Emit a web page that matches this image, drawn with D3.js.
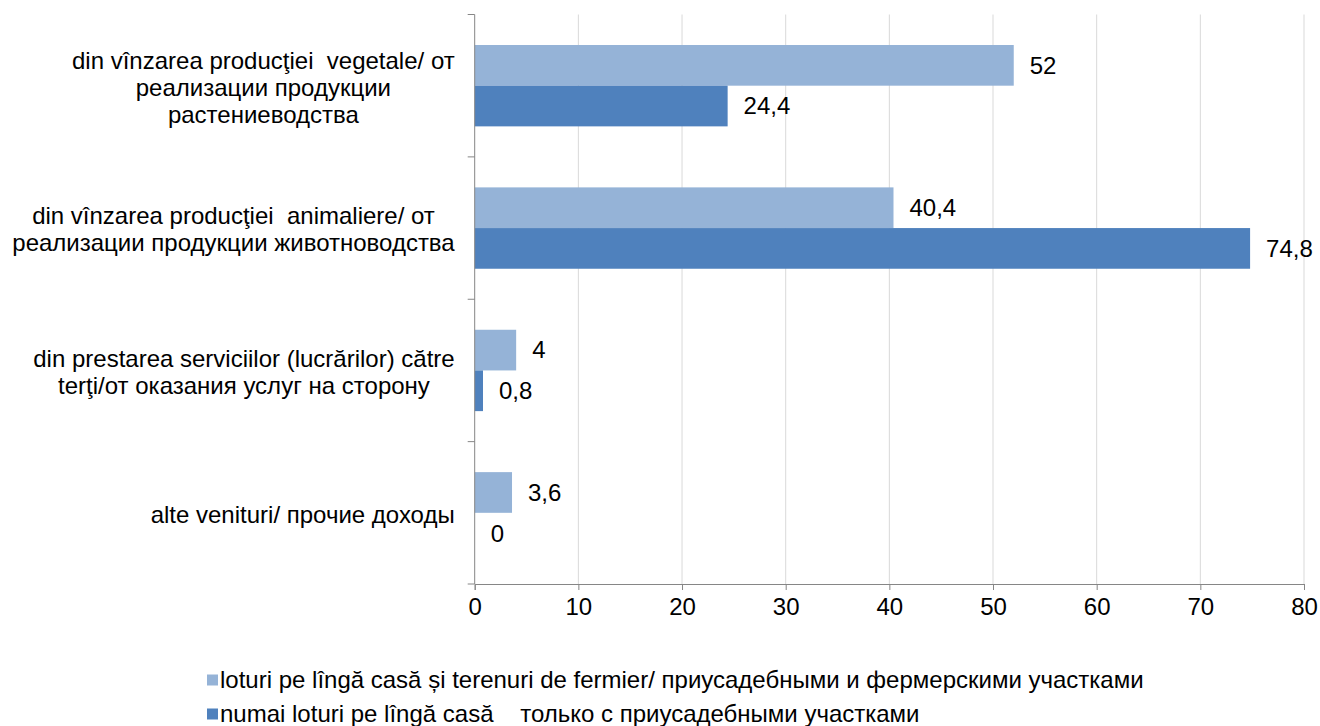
<!DOCTYPE html>
<html>
<head>
<meta charset="utf-8">
<script src="https://cdn.jsdelivr.net/npm/d3@7"></script>
<style>
  body { margin: 0; background: #fff; }
  text { font-family: "Liberation Sans", Arial, sans-serif; fill: #000; }
</style>
</head>
<body>
<svg width="1320" height="726"></svg>
<script>
"use strict"

// category labels, already wrapped the way the original shows them
const categories = [
    ["din vînzarea producţiei  vegetale/ от", "реализации продукции", "растениеводства"],
    ["din vînzarea producţiei  animaliere/ от", "реализации продукции животноводства"],
    ["din prestarea serviciilor (lucrărilor) către", "terţi/от оказания услуг на сторону"],
    ["alte venituri/ прочие доходы"]
]
const seriesNames = [
    "loturi pe lîngă casă și terenuri de fermier/ приусадебными и фермерскими участками",
    "numai loturi pe lîngă casă    только с приусадебными участками"
]
const bothPlots = [52, 40.4, 4, 3.6]
const householdOnly = [24.4, 74.8, 0.8, 0]
const xTicks = [0, 10, 20, 30, 40, 50, 60, 70, 80]

const colors = ["#95B3D7", "#4F81BD"]
const fontSize = 24

let locale = d3.formatLocale({decimal: ",", thousands: " ", grouping: [3], currency: ["", ""]})
let fmt = v => locale.format("~g")(v)

let svg = d3.select("svg"),
    margin = {top: 14.5, right: 16, bottom: 142, left: 474.7},
    width = 1320 - margin.left - margin.right,
    height = 726 - margin.top - margin.bottom

let g = svg.append("g")
    .attr("transform", "translate(" + margin.left + "," + margin.top + ")")

let x = d3.scaleLinear().domain([0, 80]).range([0, width])
let y = d3.scaleBand().domain(d3.range(categories.length)).range([0, height])
let ySub = d3.scaleBand().domain([0, 1]).range([0, y.bandwidth()])
    .paddingInner(0).paddingOuter(0.75)

// vertical gridlines
g.append("g")
    .selectAll("line")
    .data(xTicks.filter(d => d > 0))
    .enter().append("line")
    .attr("x1", d => x(d)).attr("x2", d => x(d))
    .attr("y1", 0).attr("y2", height)
    .attr("stroke", "#D9D9D9").attr("stroke-width", 1)

let rows = categories.map((c, i) => ({i: i, values: [bothPlots[i], householdOnly[i]]}))

let group = g.selectAll(".cat")
    .data(rows)
    .enter().append("g")
    .attr("class", "cat")
    .attr("transform", d => "translate(0," + y(d.i) + ")")

group.selectAll("rect")
    .data(d => d.values.map((v, s) => ({v: v, s: s})))
    .enter().append("rect")
    .attr("x", 0)
    .attr("y", d => ySub(d.s))
    .attr("width", d => x(d.v))
    .attr("height", ySub.bandwidth())
    .attr("fill", d => colors[d.s])

group.selectAll("text.val")
    .data(d => d.values.map((v, s) => ({v: v, s: s})))
    .enter().append("text")
    .attr("class", "val")
    .attr("x", d => x(d.v) + 16)
    .attr("y", d => ySub(d.s) + ySub.bandwidth() / 2)
    .attr("dy", "0.35em")
    .style("font-size", fontSize + "px")
    .text(d => fmt(d.v))

// left axis with ticks between categories
let axisColor = "#868686"
let yAxis = g.append("g")
yAxis.append("line")
    .attr("x1", 0).attr("x2", 0).attr("y1", 0).attr("y2", height)
    .attr("stroke", axisColor)
yAxis.selectAll("line.tick")
    .data(d3.range(categories.length + 1))
    .enter().append("line")
    .attr("class", "tick")
    .attr("x1", -7).attr("x2", 0)
    .attr("y1", d => d * y.step()).attr("y2", d => d * y.step())
    .attr("stroke", axisColor)

// bottom axis
g.append("g")
    .attr("transform", "translate(0," + height + ")")
    .call(d3.axisBottom(x).tickValues(xTicks).tickSize(6).tickPadding(8).tickFormat(fmt))
    .call(a => a.select(".domain").attr("stroke", axisColor))
    .call(a => a.selectAll(".tick line").attr("stroke", axisColor))
    .call(a => a.selectAll(".tick text")
        .style("font-size", fontSize + "px")
        .style("font-family", "Liberation Sans, Arial, sans-serif")
        .attr("fill", "#000"))

// category labels: lines centered on the widest line, block right aligned
let lineH = 27
let labelRight = -20
categories.forEach((lines, i) => {
    let t = g.append("text")
        .style("font-size", fontSize + "px")
        .style("white-space", "pre")
        .attr("text-anchor", "middle")
    let cy = y(i) + y.bandwidth() / 2 + 1.5
    let tspans = lines.map((l, k) => t.append("tspan")
        .attr("y", cy + (k - (lines.length - 1) / 2) * lineH)
        .attr("dy", "0.35em")
        .text(l))
    let maxW = d3.max(tspans, s => s.node().getComputedTextLength())
    tspans.forEach(s => s.attr("x", labelRight - maxW / 2))
})

// legend
let legend = svg.append("g")
seriesNames.forEach((name, s) => {
    let ly = 680 + s * 34
    legend.append("rect")
        .attr("x", 207).attr("y", ly - 5.5)
        .attr("width", 11).attr("height", 11)
        .attr("fill", colors[s])
    legend.append("text")
        .attr("x", 220).attr("y", ly)
        .attr("dy", "0.35em")
        .style("font-size", fontSize + "px")
        .style("white-space", "pre")
        .text(name)
})
</script>
</body>
</html>
